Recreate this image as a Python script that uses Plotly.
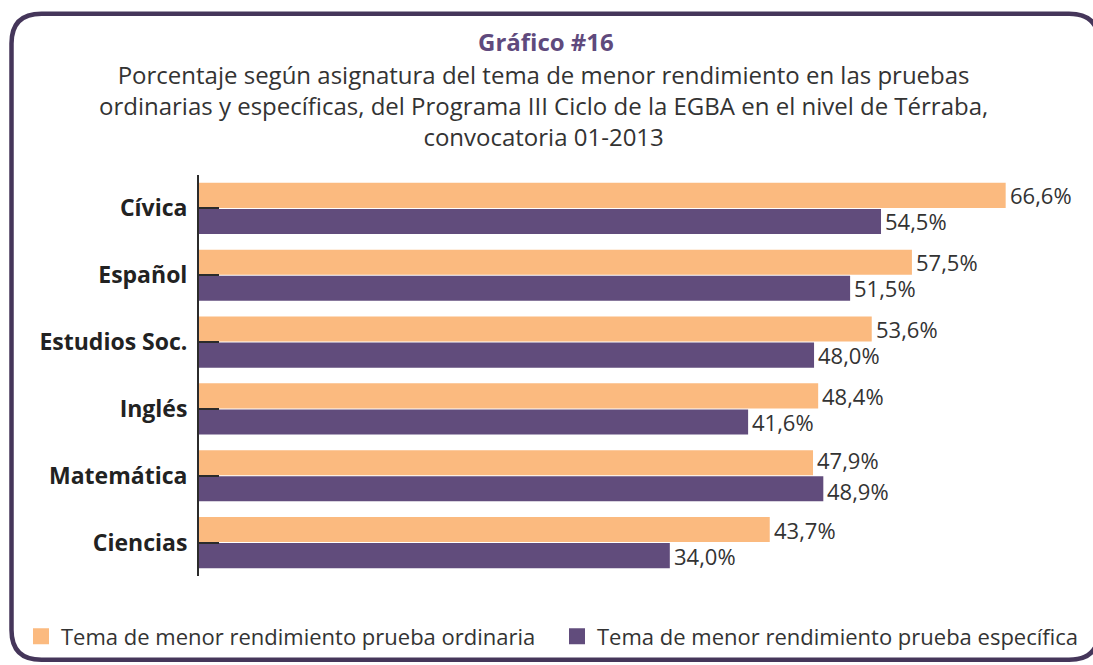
import numpy as np
import plotly.graph_objects as go

categories = ["Cívica", "Español", "Estudios Soc.", "Inglés", "Matemática", "Ciencias"]
ordinaria = [66.6, 57.5, 53.6, 48.4, 47.9, 43.7]
especifica = [54.5, 51.5, 48.0, 41.6, 48.9, 34.0]
series_names = ["Tema de menor rendimiento prueba ordinaria",
                "Tema de menor rendimiento prueba específica"]
title_main = "Gráfico #16"
subtitle_lines = [
    "Porcentaje según asignatura del tema de menor rendimiento en las pruebas",
    "ordinarias y específicas, del Programa III Ciclo de la EGBA en el nivel de Térraba,",
    "convocatoria 01-2013",
]

ORANGE = "#FBBA7F"
PURPLE = "#614C7C"
TEXT = "#333333"
FONT = "'Open Sans', Lato, sans-serif"

# axis scaling as in the original (axis does not start at zero)
X_MIN = -11.7
X_MAX = 74.3

W_FIG, H_FIG = 1093, 665
ML, MR, MT, MB = 199, 8, 175, 86
PW = W_FIG - ML - MR
PH = H_FIG - MT - MB


def px(x):
    return (x - ML) / PW


def py(y):
    return (H_FIG - MB - y) / PH


def fmt(v):
    return f"{v:.1f}".replace(".", ",") + "%"


fig = go.Figure()
series = [(series_names[0], ordinaria, ORANGE, 1),
          (series_names[1], especifica, PURPLE, -1)]
for name, vals, col, _ in series:
    v = np.array(vals)
    fig.add_trace(go.Bar(
        y=categories, x=v - X_MIN, base=X_MIN, orientation="h",
        name=name, marker=dict(color=col, line=dict(width=0)),
        customdata=[fmt(a) for a in vals],
        showlegend=False, legendgroup=name,
        hovertemplate="%{y}: %{customdata}<extra></extra>",
    ))
# legend entries (square swatches like the original)
for name, _, col, _ in series:
    fig.add_trace(go.Scatter(
        x=[None], y=[None], mode="markers", name=name, legendgroup=name,
        marker=dict(symbol="square", size=17, color=col), hoverinfo="skip",
    ))

# value labels at the bar ends (data coordinates)
annotations = []
for i, cat in enumerate(categories):
    close = abs(ordinaria[i] - especifica[i]) < 4
    for name, vals, col, sgn in series:
        annotations.append(dict(
            x=vals[i], y=cat, xref="x", yref="y", text=fmt(vals[i]),
            xanchor="left", yanchor="middle", xshift=2,
            yshift=sgn * (13 + (2.5 if close else 0)), showarrow=False,
            font=dict(family=FONT, size=22, color=TEXT)))

# frame (rounded rectangle)
l, t, r, b, rad = 11.5, 12.5, 1099, 663.5, 30
path = (f"M {px(l)},{py(t + rad)} Q {px(l)},{py(t)} {px(l + rad)},{py(t)} "
        f"L {px(r - rad)},{py(t)} Q {px(r)},{py(t)} {px(r)},{py(t + rad)} "
        f"L {px(r)},{py(b - rad)} Q {px(r)},{py(b)} {px(r - rad)},{py(b)} "
        f"L {px(l + rad)},{py(b)} Q {px(l)},{py(b)} {px(l)},{py(b - rad)} Z")
fig.add_shape(type="path", path=path, xref="paper", yref="paper",
              line=dict(color="#45365A", width=4.5), layer="below")

for a in [
    dict(text=f"<b>{title_main}</b>", x=px(546), y=py(40),
         font=dict(family=FONT, size=24, color="#5F4A7D")),
    dict(text="<br>".join(subtitle_lines), x=px(543), y=py(105),
         font=dict(family=FONT, size=24, color=TEXT), align="center"),
]:
    a.update(xref="paper", yref="paper", showarrow=False,
             xanchor="center", yanchor="middle")
    annotations.append(a)

fig.update_layout(
    width=W_FIG, height=H_FIG,
    margin=dict(l=ML, r=MR, t=MT, b=MB),
    paper_bgcolor="white", plot_bgcolor="white",
    barmode="group", bargap=0.22, bargroupgap=0.04,
    annotations=annotations,
    showlegend=True,
    legend=dict(orientation="h", x=px(45), y=py(640), xanchor="left",
                yanchor="middle", font=dict(family=FONT, size=22, color=TEXT),
                entrywidth=491, itemsizing="trace", bgcolor="rgba(0,0,0,0)"),
    xaxis=dict(range=[X_MIN, X_MAX], visible=False, showgrid=False,
               zeroline=False, fixedrange=True),
    yaxis=dict(autorange="reversed", showline=True, linecolor="#2b2b2b",
               linewidth=2, ticks="inside", ticklen=20, tickwidth=2,
               tickcolor="#2b2b2b", showgrid=False, ticklabelstandoff=5,
               tickprefix="<b>", ticksuffix="</b>",
               tickfont=dict(family=FONT, size=23, color="#222222"),
               categoryorder="array", categoryarray=categories),
)

fig.write_html("out.html", config={"displayModeBar": False},
               post_script="document.body.style.margin='0px';")
